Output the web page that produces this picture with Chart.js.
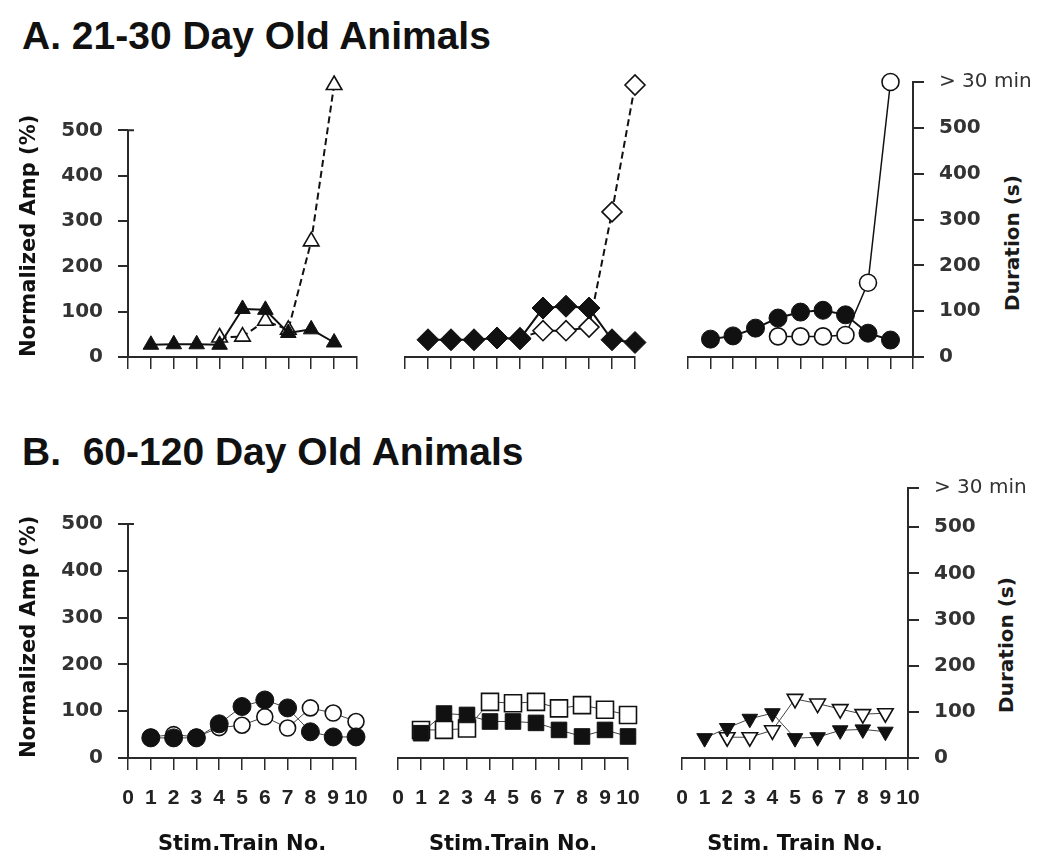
<!DOCTYPE html>
<html lang="en">
<head>
    <meta charset="UTF-8">
    <title>Normalized amplitude and duration per stimulus train</title>
    <script src="https://cdn.jsdelivr.net/npm/chart.js"></script>
    <style>
        body {
            margin: 0;
            background: #fff;
        }
        #page {
            position: relative;
            width: 1050px;
            height: 867px;
            overflow: hidden;
            font-family: 'Liberation Sans', Arial, sans-serif;
            color: #111;
        }
        canvas {
            position: absolute;
        }
        .title {
            position: absolute;
            left: 22px;
            font-weight: bold;
            font-size: 39px;
            line-height: 39px;
            white-space: pre;
        }
        .dur {
            position: absolute;
            font-family: 'DejaVu Sans', sans-serif;
            font-weight: bold;
            font-size: 20px;
            color: #1a1a1a;
            white-space: nowrap;
            transform: translate(-50%, -50%) rotate(-90deg);
        }
    </style>
</head>
<body>
<div id="page">
    <div class="title" style="top:16px">A. 21-30 Day Old Animals</div>
    <div class="title" style="top:432px">B.  60-120 Day Old Animals</div>
    <div class="dur" style="left:1012px; top:243px">Duration (s)</div>
    <div class="dur" style="left:1006px; top:645px">Duration (s)</div>

    <canvas id="a1" width="380" height="340" style="left:0; top:60px"></canvas>
    <canvas id="a2" width="280" height="340" style="left:380px; top:60px"></canvas>
    <canvas id="a3" width="390" height="340" style="left:660px; top:60px"></canvas>
    <canvas id="b1" width="380" height="397" style="left:0; top:470px"></canvas>
    <canvas id="b2" width="280" height="397" style="left:380px; top:470px"></canvas>
    <canvas id="b3" width="390" height="397" style="left:660px; top:470px"></canvas>
</div>

<script>
    // ---- data ----
    // A. 21-30 day old animals
    const trainsA1Amp = [1, 2, 3, 4, 5, 6, 7, 8, 9];
    const ampA1 = [27, 28, 28, 27, 106, 104, 53, 61, 32];
    const trainsA1Dur = [4, 5, 6, 7, 8, 9];
    const durA1 = [43, 45, 80, 60, 255, 600];

    const trainsA2Amp = [1, 2, 3, 4, 5, 6, 7, 8, 9, 10];
    const ampA2 = [38, 38, 38, 42, 40, 108, 112, 108, 38, 32];
    const trainsA2Dur = [5, 6, 7, 8, 9, 10];
    const durA2 = [42, 58, 58, 66, 320, 600];

    const trainsA3Amp = [1, 2, 3, 4, 5, 6, 7, 8, 9];
    const ampA3 = [39, 46, 63, 85, 98, 102, 92, 52, 37];
    const trainsA3Dur = [4, 5, 6, 7, 8, 9];
    const durA3 = [45, 45, 45, 48, 162, 600];

    // B. 60-120 day old animals
    const trainsB1 = [1, 2, 3, 4, 5, 6, 7, 8, 9, 10];
    const ampB1 = [43, 43, 43, 73, 110, 124, 107, 56, 45, 45];
    const durB1 = [45, 50, 45, 65, 70, 88, 64, 107, 96, 78];

    const trainsB2 = [1, 2, 3, 4, 5, 6, 7, 8, 9, 10];
    const ampB2 = [53, 95, 92, 78, 78, 75, 60, 46, 60, 46];
    const durB2 = [60, 60, 63, 120, 117, 120, 106, 113, 103, 92];

    const trainsB3Amp = [1, 2, 3, 4, 5, 6, 7, 8, 9];
    const ampB3 = [43, 65, 85, 97, 43, 45, 60, 62, 57];
    const trainsB3Dur = [2, 3, 4, 5, 6, 7, 8, 9];
    const durB3 = [45, 45, 60, 128, 118, 106, 95, 97];

    // axis ticks
    const ampTicks = [0, 100, 200, 300, 400, 500];
    const durTicksA = [0, 100, 200, 300, 400, 500, 600];
    const durTicksB = [0, 100, 200, 300, 400, 500, 585];
    const longLabel = '> 30 min';

    // ---- helpers ----
    const ink = '#111';
    const axisColor = '#2a2a2a';

    function pts(xs, ys) {
        return xs.map((x, i) => ({ x: x, y: ys[i] }));
    }

    function series(xs, ys, style, filled, opts) {
        return Object.assign({
            data: pts(xs, ys),
            showLine: true,
            borderColor: ink,
            borderWidth: 1.5,
            pointStyle: style,
            pointRadius: 9,
            pointBackgroundColor: filled ? ink : '#fff',
            pointBorderColor: ink,
            pointBorderWidth: filled ? 1 : 1.6,
            clip: false
        }, opts || {});
    }

    function xScale(withLabels, height, titleText) {
        return {
            type: 'linear',
            position: 'bottom',
            min: 0,
            max: 10,
            ticks: {
                display: withLabels,
                stepSize: 1,
                autoSkip: false,
                maxRotation: 0,
                padding: 16,
                color: '#222',
                font: { family: 'Liberation Sans', weight: 'bold', size: 21 }
            },
            grid: { drawOnChartArea: false, tickLength: 12, color: axisColor, lineWidth: 1.5 },
            border: { color: axisColor, width: 2 },
            title: {
                display: withLabels,
                text: titleText,
                color: ink,
                padding: { top: 4, bottom: 4 },
                font: { family: 'DejaVu Sans', weight: 'bold', size: 21 }
            },
            afterFit: s => { s.height = height; s.paddingLeft = 0; s.paddingRight = 0; }
        };
    }

    // left amplitude axis; its line stops at 500 even when the range goes higher
    function ampScale(show, max) {
        return {
            type: 'linear',
            position: 'left',
            display: show,
            min: 0,
            max: max,
            afterBuildTicks: s => { s.ticks = ampTicks.map(v => ({ value: v })); },
            ticks: {
                padding: 15,
                color: '#333',
                font: { family: 'DejaVu Sans', weight: 'bold', size: 20 }
            },
            grid: { drawOnChartArea: false, tickLength: 10, color: axisColor, lineWidth: 2 },
            border: { display: false },
            title: {
                display: true,
                text: 'Normalized Amp (%)',
                align: 'start',
                color: ink,
                padding: { top: 4, bottom: 4 },
                font: { family: 'DejaVu Sans', weight: 'bold', size: 21 }
            },
            afterFit: s => { s.width = show ? 115 : 0; s.paddingTop = 0; s.paddingBottom = 0; }
        };
    }

    function durScale(tickValues, width) {
        const top = tickValues[tickValues.length - 1];
        return {
            type: 'linear',
            position: 'right',
            min: 0,
            max: top,
            afterBuildTicks: s => { s.ticks = tickValues.map(v => ({ value: v })); },
            ticks: {
                padding: 15,
                color: '#333',
                callback: v => (v === top ? longLabel : v),
                font: ctx => ({
                    family: 'DejaVu Sans',
                    size: 20,
                    weight: ctx.tick && ctx.tick.value === top ? 'normal' : 'bold'
                })
            },
            grid: { drawOnChartArea: false, tickLength: 11, color: axisColor, lineWidth: 2 },
            border: { color: axisColor, width: 2 },
            afterFit: s => { s.width = width; s.paddingTop = 0; s.paddingBottom = 0; }
        };
    }

    // draws the left axis line from 0 up to the last amplitude tick, with the small hook at the top
    const ampAxisLine = {
        id: 'ampAxisLine',
        beforeDatasetsDraw(chart) {
            const s = chart.scales.y;
            if (!s || !s.options.display || s.options.position !== 'left') return;
            const ctx = chart.ctx;
            const x = Math.round(s.right);
            const yTop = s.getPixelForValue(ampTicks[ampTicks.length - 1]);
            const yBot = s.getPixelForValue(0);
            ctx.save();
            ctx.strokeStyle = axisColor;
            ctx.lineWidth = 2;
            ctx.beginPath();
            ctx.moveTo(x + 6, yTop);
            ctx.lineTo(x, yTop);
            ctx.lineTo(x, yBot + 1);
            ctx.stroke();
            ctx.restore();
        }
    };

    function makeChart(id, datasets, scales, padding) {
        return new Chart(document.getElementById(id), {
            type: 'line',
            data: { datasets: datasets },
            options: {
                responsive: false,
                animation: false,
                devicePixelRatio: 1,
                events: [],
                layout: { padding: padding },
                plugins: { legend: { display: false }, tooltip: { enabled: false } },
                scales: scales
            },
            plugins: [ampAxisLine]
        });
    }

    // ---- A. 21-30 day old ----
    makeChart('a1', [
        series(trainsA1Amp, ampA1, 'triangle', true, { borderWidth: 2 }),
        series(trainsA1Dur, durA1, 'triangle', false, { borderWidth: 2, borderDash: [7, 4] })
    ], { x: xScale(false, 30, ''), y: ampScale(true, 600) },
       { left: 13, top: 25, right: 23, bottom: 13 });

    makeChart('a2', [
        series(trainsA2Amp, ampA2, 'rectRot', true, { borderWidth: 2, pointRadius: 11 }),
        series(trainsA2Dur, durA2, 'rectRot', false, { borderWidth: 2, borderDash: [7, 4], pointRadius: 10 })
    ], { x: xScale(false, 30, ''), y: ampScale(false, 600) },
       { left: 25, top: 25, right: 25, bottom: 13 });

    makeChart('a3', [
        series(trainsA3Amp, ampA3, 'circle', true, { borderWidth: 2 }),
        series(trainsA3Dur, durA3, 'circle', false, { pointRadius: 8.5 })
    ], { x: xScale(false, 30, ''), y: durScale(durTicksA, 137) },
       { left: 28, top: 22, right: 0, bottom: 13 });

    // ---- B. 60-120 day old ----
    makeChart('b1', [
        series(trainsB1, ampB1, 'circle', true, { borderWidth: 1, borderColor: '#444' }),
        series(trainsB1, durB1, 'circle', false, { borderWidth: 1, borderColor: '#444', pointRadius: 8 })
    ], { x: xScale(true, 103, 'Stim.Train No.'), y: ampScale(true, 500) },
       { left: 13, top: 54, right: 24, bottom: 6 });

    makeChart('b2', [
        series(trainsB2, ampB2, 'rect', true, { borderWidth: 1, borderColor: '#444', pointRadius: 11 }),
        series(trainsB2, durB2, 'rect', false, { borderWidth: 1, borderColor: '#444', pointRadius: 12 })
    ], { x: xScale(true, 103, 'Stim.Train No.'), y: ampScale(false, 500) },
       { left: 18, top: 54, right: 32, bottom: 6 });

    makeChart('b3', [
        series(trainsB3Amp, ampB3, 'triangle', true, { borderWidth: 1, borderColor: '#444', pointRotation: 180 }),
        series(trainsB3Dur, durB3, 'triangle', false, { borderWidth: 1, borderColor: '#444', pointRotation: 180 })
    ], { x: xScale(true, 103, 'Stim. Train No.'), y: durScale(durTicksB, 142) },
       { left: 22, top: 18, right: 0, bottom: 6 });
</script>
</body>
</html>
